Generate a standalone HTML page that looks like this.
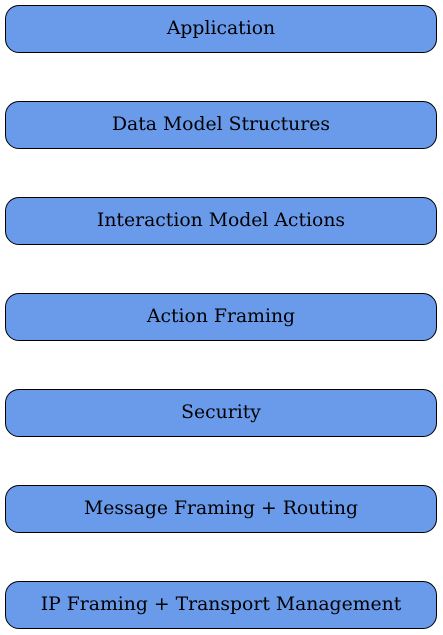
<!DOCTYPE html>
<html><head><style>
body{margin:0;width:443px;height:635px;background:#fff;position:relative;overflow:hidden}
.b{position:absolute;left:5px;width:430px;height:46px;border:1px solid #000;border-radius:14px;background:#6a9aea;
font-family:"DejaVu Serif","Liberation Serif",serif;font-size:18.8px;line-height:46px;text-align:center;color:#000}
</style></head><body>
<div class="b" style="top:5px">Application</div>
<div class="b" style="top:101px">Data Model Structures</div>
<div class="b" style="top:197px">Interaction Model Actions</div>
<div class="b" style="top:293px">Action Framing</div>
<div class="b" style="top:389px">Security</div>
<div class="b" style="top:485px">Message Framing + Routing</div>
<div class="b" style="top:581px">IP Framing + Transport Management</div>
</body></html>
